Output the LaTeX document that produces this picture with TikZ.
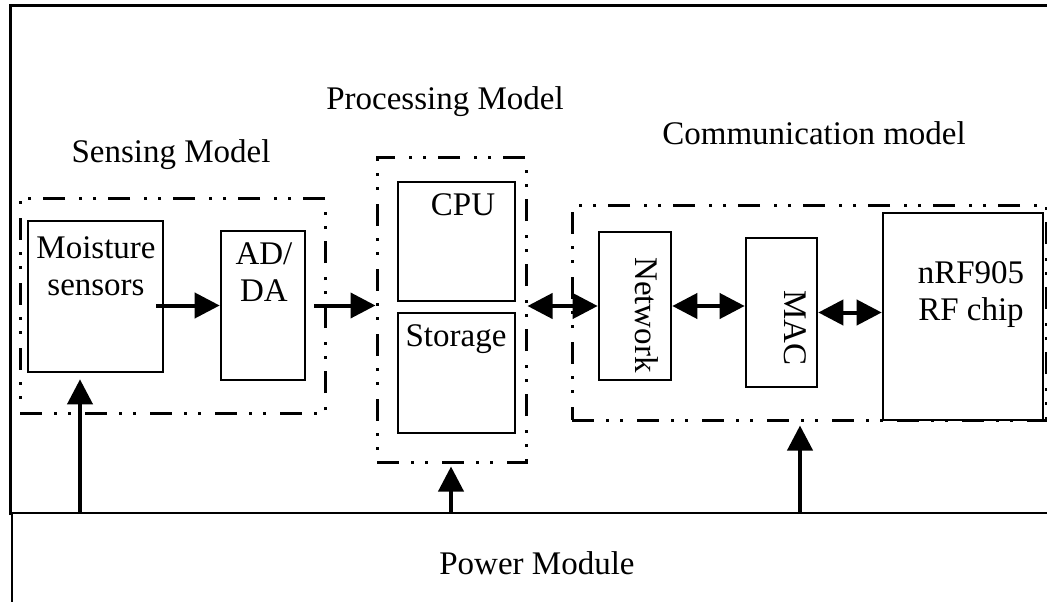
\documentclass[tikz,border=0pt]{standalone}
\usepackage{fontspec}
\setmainfont{Liberation Serif}
\usetikzlibrary{arrows.meta,calc}
\begin{document}
\begin{tikzpicture}[x=1pt,y=-1pt,
  box/.style={draw,line width=2.6pt,rectangle,inner sep=0pt},
  ddbox/.style={draw,line width=3pt,rectangle,inner sep=0pt,
    dash pattern=on 22pt off 12pt on 3pt off 11pt on 3pt off 14pt},
  lbl/.style={inner sep=0pt,font=\fontsize{33}{37}\selectfont,align=center},
  arr/.style={line width=4pt,-{Triangle[length=25pt,width=25pt]}},
  darr/.style={line width=4pt,{Triangle[length=25pt,width=25pt]}-{Triangle[length=25pt,width=25pt]}},
  frame/.style={line width=3pt}]
\useasboundingbox (0,0) rectangle (1047,602);
\begin{scope}
\clip (0,0) rectangle (1047,602);
% outer frame and power module
\draw[frame] (10,515) -- (10,6) -- (1060,6);
\draw[line width=2.6pt] (12,620) -- (12,513) -- (1060,513);
% dash-dot group boxes
\node[ddbox,minimum width=305pt,minimum height=215pt] (sense) at (172.5,305.5) {};
\node[ddbox,minimum width=149pt,minimum height=305pt] (proc) at (451.5,309.5) {};
\node[ddbox,minimum width=474pt,minimum height=215pt] (comm) at (809,312.5) {};
% blocks
\node[box,minimum width=135pt,minimum height=151pt] (moist) at (95.5,296.5) {};
\node[box,minimum width=84pt,minimum height=149pt] (adda) at (263,305.5) {};
\node[box,minimum width=117pt,minimum height=119pt] (cpu) at (456.5,241.5) {};
\node[box,minimum width=117pt,minimum height=120pt] (stor) at (456.5,373) {};
\node[box,minimum width=72pt,minimum height=148pt] (net) at (635,306) {};
\node[box,minimum width=71pt,minimum height=149pt] (mac) at (781.5,312.5) {};
\node[box,minimum width=160pt,minimum height=207pt] (rf) at (963,316.5) {};
\end{scope}
% labels
\node[lbl] (tsense) at (171,155) {Sensing Model};
\node[lbl] (tproc) at (445,102) {Processing Model};
\node[lbl] (tcomm) at (814,133) {Communication model};
\node[lbl] (tpower) at (537,563) {Power Module};
\node[lbl] (tmoist) at (96,266) {Moisture\\sensors};
\node[lbl] (tadda) at (264,272) {AD/\\DA};
\node[lbl] (tcpu) at (463,205) {CPU};
\node[lbl] (tstor) at (456,339) {Storage};
\node[lbl,rotate=-90] (tnet) at (647,315) {Network};
\node[lbl,rotate=-90] (tmac) at (795,328) {MAC};
\node[lbl] (trf) at (971,295) {nRF905\\RF chip};
% data connectors
\draw[arr] ([xshift=-8pt]moist.east |- adda.west) -- (adda.west);
\draw[arr] ([xshift=8pt]adda.east) -- (proc.west |- adda.east);
\draw[darr] (proc.east |- net.west) -- (net.west);
\draw[darr] (net.east) -- (net.east -| mac.west);
\draw[darr] (mac.east) -- (mac.east -| rf.west);
% power connectors
\coordinate (p1) at (80,513);
\coordinate (p2) at (451,513);
\coordinate (p3) at (800,513);
\draw[arr,shorten >=6pt] (p1) -- (p1 |- moist.south);
\draw[arr,shorten >=3pt] (p2) -- (p2 |- proc.south);
\draw[arr,shorten >=4pt] (p3) -- (p3 |- comm.south);
\end{tikzpicture}
\end{document}
